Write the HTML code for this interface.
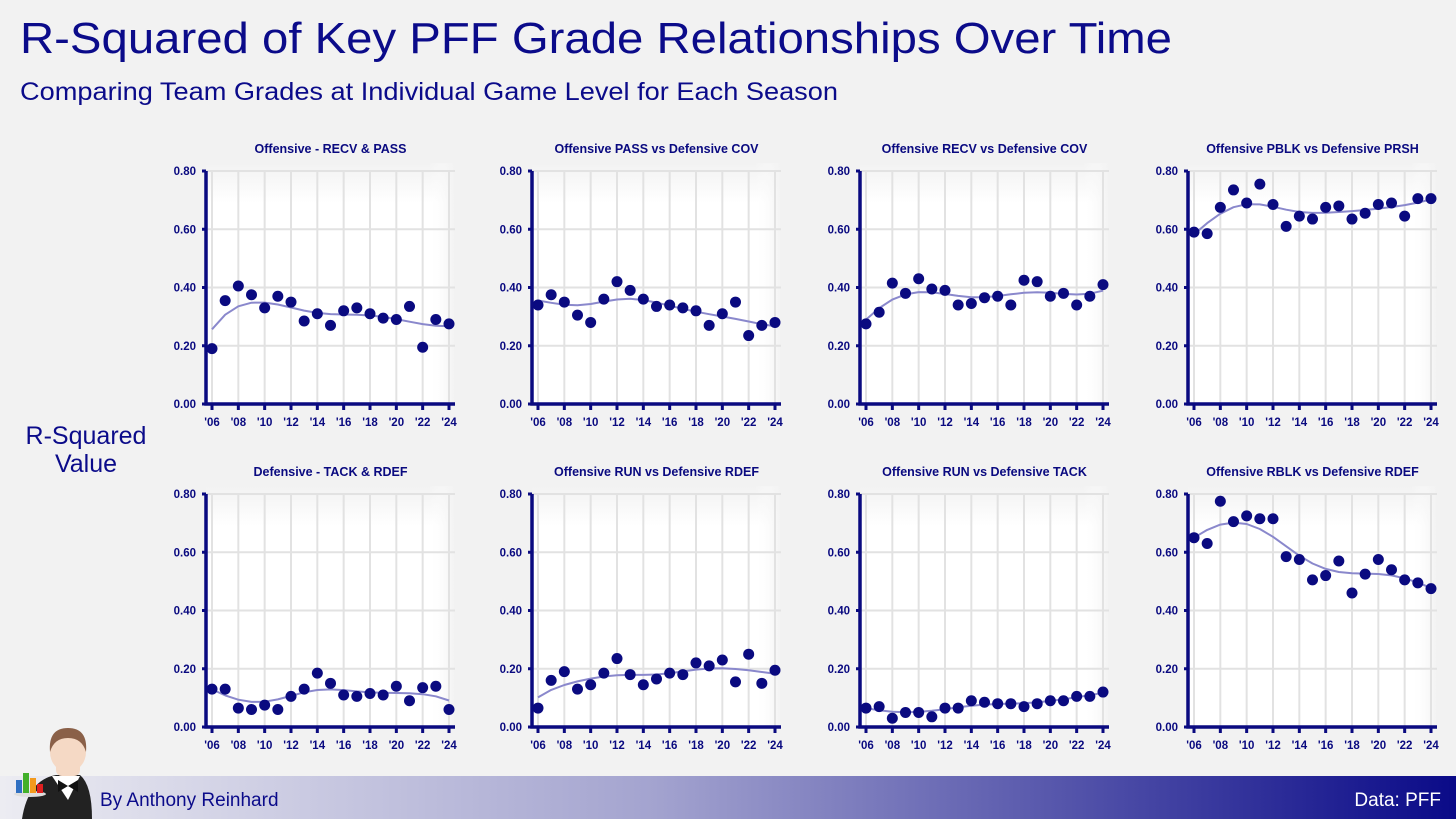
<!DOCTYPE html>
<html><head><meta charset="utf-8"><style>
html,body{margin:0;padding:0;background:#f2f2f2;}
svg{display:block;font-family:"Liberation Sans",sans-serif;}
</style></head><body>
<svg id="chart" width="1456" height="819" viewBox="0 0 1456 819">
<defs>
<linearGradient id="fadeTop" x1="0" y1="0" x2="0" y2="1"><stop offset="0" stop-color="#f2f2f2"/><stop offset="1" stop-color="#ffffff"/></linearGradient>
<linearGradient id="fadeRight" x1="0" y1="0" x2="1" y2="0"><stop offset="0" stop-color="#ffffff" stop-opacity="0"/><stop offset="1" stop-color="#f2f2f2"/></linearGradient>
<linearGradient id="footerGrad" x1="0" y1="0" x2="1" y2="0"><stop offset="0" stop-color="#ececf2"/><stop offset="0.45" stop-color="#a3a3cf"/><stop offset="1" stop-color="#0a0a88"/></linearGradient>
</defs>
<rect x="0" y="0" width="1456" height="819" fill="#f2f2f2"/>
<text x="20" y="53" font-size="44" fill="#0b0b8a" textLength="1152" lengthAdjust="spacingAndGlyphs">R-Squared of Key PFF Grade Relationships Over Time</text>
<text x="20" y="100" font-size="25" fill="#0b0b8a" textLength="818" lengthAdjust="spacingAndGlyphs">Comparing Team Grades at Individual Game Level for Each Season</text>
<text x="86" y="444" font-size="25" fill="#0b0b8a" text-anchor="middle">R-Squared</text>
<text x="86" y="472" font-size="25" fill="#0b0b8a" text-anchor="middle">Value</text>
<rect x="0" y="776" width="1456" height="43" fill="url(#footerGrad)"/>
<text x="100" y="806" font-size="19" fill="#0b0b8a">By Anthony Reinhard</text>
<text x="1441" y="806" font-size="19" fill="#ffffff" text-anchor="end">Data: PFF</text>
<g>
<path d="M22 819 Q28 780 56 775 L80 775 Q92 785 92 819 Z" fill="#222"/>
<path d="M52 776 L68 800 L80 776 Z" fill="#fff"/>
<path d="M58 780 L68 786 L58 792 Z M78 780 L68 786 L78 792 Z" fill="#111"/>
<rect x="56" y="754" width="24" height="22" rx="6" fill="#f5d9c5"/>
<ellipse cx="68" cy="752" rx="18" ry="20" fill="#f5d9c5"/>
<path d="M50 752 Q48 728 68 728 Q88 728 86 752 Q82 738 68 738 Q54 738 50 752 Z" fill="#8a6048"/>
<ellipse cx="30" cy="794" rx="16" ry="3" fill="#ddd"/>
<rect x="16" y="780" width="6" height="13" fill="#2f6fc2"/>
<rect x="23" y="773" width="6" height="20" fill="#42b02a"/>
<rect x="30" y="778" width="6" height="15" fill="#f39a1c"/>
<rect x="37" y="784" width="6" height="9" fill="#e02020"/>
</g>
<g id="panels"></g>
</svg>
<script>
const years = ['06','07','08','09','10','11','12','13','14','15','16','17','18','19','20','21','22','23','24'];
const tickYears = ['06','08','10','12','14','16','18','20','22','24'];
const yTicks = [0, 0.2, 0.4, 0.6, 0.8];
const yTickLabels = ['0.00','0.20','0.40','0.60','0.80'];
const panelTitles = ['Offensive - RECV & PASS','Offensive PASS vs Defensive COV','Offensive RECV vs Defensive COV','Offensive PBLK vs Defensive PRSH','Defensive - TACK & RDEF','Offensive RUN vs Defensive RDEF','Offensive RUN vs Defensive TACK','Offensive RBLK vs Defensive RDEF'];
const s1 = [.19,.355,.405,.375,.33,.37,.35,.285,.31,.27,.32,.33,.31,.295,.29,.335,.195,.29,.275];
const s2 = [.34,.375,.35,.305,.28,.36,.42,.39,.36,.335,.34,.33,.32,.27,.31,.35,.235,.27,.28];
const s3 = [.275,.315,.415,.38,.43,.395,.39,.34,.345,.365,.37,.34,.425,.42,.37,.38,.34,.37,.41];
const s4 = [.59,.585,.675,.735,.69,.755,.685,.61,.645,.635,.675,.68,.635,.655,.685,.69,.645,.705,.705];
const s5 = [.13,.13,.065,.06,.075,.06,.105,.13,.185,.15,.11,.105,.115,.11,.14,.09,.135,.14,.06];
const s6 = [.065,.16,.19,.13,.145,.185,.235,.18,.145,.165,.185,.18,.22,.21,.23,.155,.25,.15,.195];
const s7 = [.065,.07,.03,.05,.05,.035,.065,.065,.09,.085,.08,.08,.07,.08,.09,.09,.105,.105,.12];
const s8 = [.65,.63,.775,.705,.725,.715,.715,.585,.575,.505,.52,.57,.46,.525,.575,.54,.505,.495,.475];
const series = [s1,s2,s3,s4,s5,s6,s7,s8];

const NS = 'http://www.w3.org/2000/svg';
const root = document.getElementById('panels');
const colX0 = [212, 538, 866, 1194];
const rowY0 = [404, 727];
const plotW = 237, plotH = 233;
function mk(tag, attrs, parent){const e=document.createElementNS(NS,tag);for(const k in attrs)e.setAttribute(k,attrs[k]);parent.appendChild(e);return e;}
function smooth(vals){
  const n=vals.length, bw=2.2, out=[];
  for(let i=0;i<n;i++){
    let sw=0,sx=0,sy=0,sxx=0,sxy=0;
    for(let j=0;j<n;j++){const d=(j-i)/bw;const w=Math.exp(-0.5*d*d);sw+=w;sx+=w*j;sy+=w*vals[j];sxx+=w*j*j;sxy+=w*j*vals[j];}
    const mx=sx/sw,my=sy/sw,vx=sxx/sw-mx*mx,cxy=sxy/sw-mx*my;const b=cxy/vx;out.push(my+b*(i-mx));
  }
  return out;
}
series.forEach((vals,p)=>{
  const col=p%4,row=Math.floor(p/4);
  const x0=colX0[col], yb=rowY0[row];
  const xs=i=>x0+i*plotW/(years.length-1);
  const ys=v=>yb-v/0.8*plotH;
  const g=mk('g',{},root);
  
  
  const bg=mk('rect',{x:x0-6,y:yb-plotH-8,width:plotW+12,height:plotH+8,fill:'#ffffff'},g);
  
  
  mk('rect',{x:x0-6,y:yb-plotH-8,width:plotW+12,height:40,fill:'url(#fadeTop)'},g);
  mk('rect',{x:x0+plotW-20,y:yb-plotH-8,width:26,height:plotH+8,fill:'url(#fadeRight)'},g);
  yTicks.forEach((t,k)=>{
    const gl=mk('line',{x1:x0-6,x2:x0+plotW+6,y1:ys(t),y2:ys(t),stroke:'#e2e2e2','stroke-width':2},g);
    
    
    mk('line',{x1:x0-10,x2:x0-6,y1:ys(t),y2:ys(t),stroke:'#0a0a80','stroke-width':3},g);
    const tl=mk('text',{x:x0-16,y:ys(t)+4,'font-size':11.5,'font-weight':'bold',fill:'#0a0a80','text-anchor':'end'},g);
    tl.textContent=yTickLabels[k];
    
    
  });
  tickYears.forEach(ty=>{
    const i=years.indexOf(ty);
    const gl=mk('line',{x1:xs(i),x2:xs(i),y1:yb-plotH,y2:yb,stroke:'#e2e2e2','stroke-width':2},g);
    
    
    mk('line',{x1:xs(i),x2:xs(i),y1:yb,y2:yb+6,stroke:'#0a0a80','stroke-width':3},g);
    const tl=mk('text',{x:xs(i),y:yb+22,'font-size':11.5,'font-weight':'bold',fill:'#0a0a80','text-anchor':'middle'},g);
    tl.textContent="'"+ty;
    
    
  });
  const ax=mk('path',{d:`M${x0-6} ${yb-plotH} L${x0-6} ${yb} L${x0+plotW+6} ${yb}`,stroke:'#0a0a80','stroke-width':3.5,fill:'none'},g);
  
  
  const sm=smooth(vals);
  const line=mk('path',{d:sm.map((v,i)=>(i?'L':'M')+xs(i).toFixed(1)+' '+ys(v).toFixed(1)).join(' '),stroke:'#8a88cc','stroke-width':2,fill:'none','stroke-linejoin':'round'},g);
  
  
  vals.forEach((v,i)=>{
    const c=mk('circle',{cx:xs(i),cy:ys(v),r:5.5,fill:'#0a0a80'},g);
    
    
  });
  const t=mk('text',{x:x0+plotW/2,y:yb-plotH-18,'font-size':12.5,'font-weight':'bold',fill:'#0a0a80','text-anchor':'middle'},g);
  t.textContent=panelTitles[p];
  
  
});
</script>
</body></html>
